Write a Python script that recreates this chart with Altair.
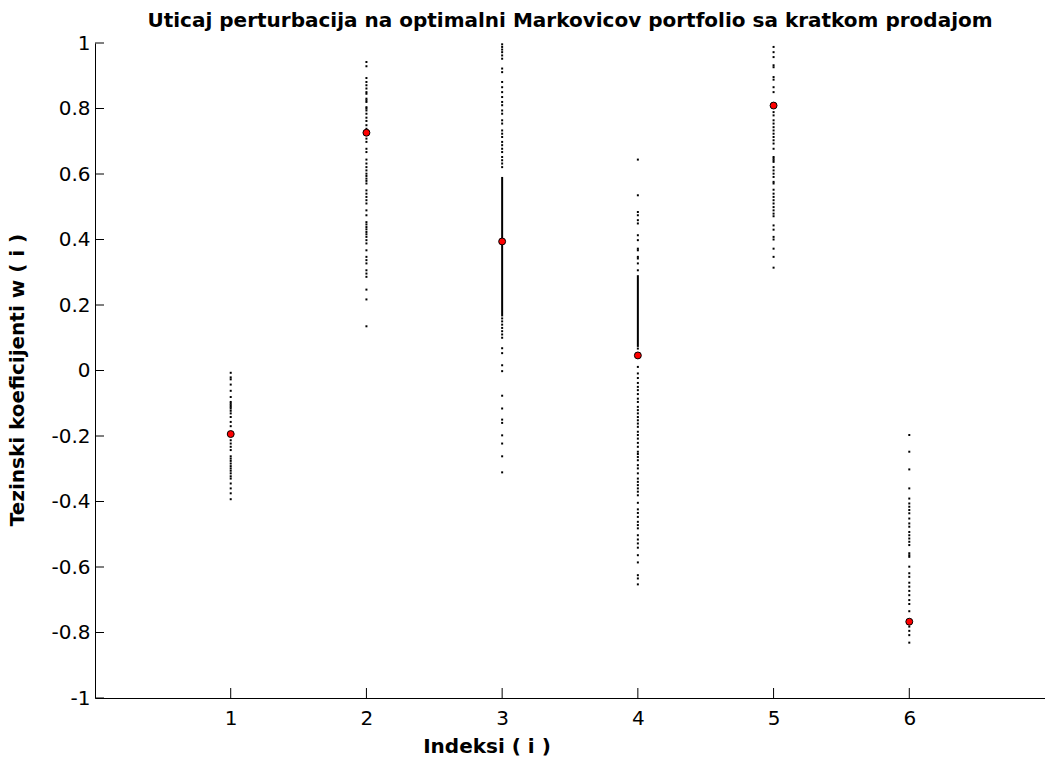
import altair as alt
import pandas as pd

# Perturbed optimal weights (short selling allowed), one column of samples per asset index
idx1_w = [-0.007, -0.021, -0.027, -0.043, -0.062, -0.081, -0.096, -0.101, -0.106, -0.111,
          -0.116, -0.123, -0.131, -0.142, -0.157, -0.170, -0.213, -0.223, -0.233, -0.243,
          -0.262, -0.269, -0.276, -0.284, -0.292, -0.299, -0.306, -0.314, -0.323, -0.330,
          -0.345, -0.360, -0.375, -0.393]
idx2_w = [0.942, 0.929, 0.893, 0.881, 0.871, 0.861, 0.850, 0.845, 0.830, 0.825, 0.820,
          0.804, 0.800, 0.794, 0.784, 0.772, 0.762, 0.749, 0.738, 0.708, 0.698, 0.677,
          0.667, 0.644, 0.632, 0.621, 0.611, 0.601, 0.594, 0.586, 0.579, 0.571, 0.550,
          0.540, 0.530, 0.520, 0.510, 0.489, 0.474, 0.453, 0.446, 0.438, 0.431, 0.423,
          0.416, 0.408, 0.398, 0.388, 0.367, 0.347, 0.337, 0.327, 0.306, 0.296, 0.286,
          0.247, 0.217, 0.135]
idx3_w = [0.996, 0.988, 0.980, 0.972, 0.962, 0.952, 0.922, 0.911, 0.881, 0.865, 0.850,
          0.835, 0.820, 0.810, 0.794, 0.784, 0.764, 0.754, 0.733, 0.723, 0.713, 0.698,
          0.688, 0.677, 0.667, 0.652, 0.642, 0.632, 0.621, 0.159, 0.150, 0.140, 0.130,
          0.120, 0.110, 0.100, 0.068, 0.053, 0.016, -0.002, -0.077, -0.116, -0.150,
          -0.160, -0.198, -0.223, -0.262, -0.311]
idx4_w = [0.644, 0.535, 0.484, 0.474, 0.459, 0.449, 0.413, 0.398, 0.372, 0.367, 0.347,
          0.342, 0.327, 0.306, 0.067, 0.011, -0.009, -0.023, -0.038, -0.050, -0.060,
          -0.072, -0.086, -0.096, -0.111, -0.121, -0.131, -0.142, -0.152, -0.162, -0.172,
          -0.187, -0.197, -0.208, -0.221, -0.233, -0.248, -0.255, -0.264, -0.274, -0.289,
          -0.299, -0.314, -0.330, -0.340, -0.350, -0.360, -0.370, -0.381, -0.404, -0.424,
          -0.435, -0.447, -0.462, -0.472, -0.482, -0.503, -0.516, -0.528, -0.541, -0.564,
          -0.586, -0.625, -0.635, -0.653]
idx5_w = [0.988, 0.972, 0.957, 0.932, 0.926, 0.896, 0.888, 0.865, 0.850, 0.789, 0.779,
          0.764, 0.754, 0.743, 0.733, 0.723, 0.713, 0.703, 0.693, 0.677, 0.652, 0.647,
          0.642, 0.637, 0.621, 0.611, 0.601, 0.591, 0.576, 0.571, 0.552, 0.540, 0.530,
          0.520, 0.510, 0.499, 0.489, 0.479, 0.471, 0.443, 0.430, 0.408, 0.400, 0.372,
          0.347, 0.314]
idx6_w = [-0.197, -0.248, -0.302, -0.360, -0.391, -0.406, -0.416, -0.426, -0.436, -0.452,
          -0.467, -0.477, -0.493, -0.503, -0.513, -0.523, -0.533, -0.558, -0.564, -0.569,
          -0.599, -0.619, -0.630, -0.648, -0.660, -0.673, -0.686, -0.701, -0.713, -0.735,
          -0.782, -0.795, -0.808, -0.831]

# Stretches where the samples are so dense they merge into a solid line
dense_idx = [3, 4]
dense_lo = [0.165, 0.072]
dense_hi = [0.591, 0.291]

# Unperturbed optimal Markowitz weights
opt_idx = [1, 2, 3, 4, 5, 6]
opt_w = [-0.194, 0.726, 0.394, 0.046, 0.809, -0.767]

x_ticks = [1, 2, 3, 4, 5, 6]
y_ticks = [-1, -0.8, -0.6, -0.4, -0.2, 0, 0.2, 0.4, 0.6, 0.8, 1]

W, H = 950, 655
TICK_FONT = "DejaVu Sans"
BOLD_FONT = "DejaVu Sans"

samples = pd.DataFrame(
    [(i, w) for i, col in enumerate([idx1_w, idx2_w, idx3_w, idx4_w, idx5_w, idx6_w], start=1) for w in col],
    columns=["i", "w"],
)
dense = pd.DataFrame({"i": dense_idx, "lo": dense_lo, "hi": dense_hi})
optimal = pd.DataFrame({"i": opt_idx, "w": opt_w})
xt = pd.DataFrame({"t": x_ticks})
yt = pd.DataFrame({"t": y_ticks})

x_scale = alt.Scale(domain=[0, 7], nice=False, zero=False)
y_scale = alt.Scale(domain=[-1, 1], nice=False, zero=False)

x_axis = alt.Axis(values=x_ticks, ticks=False, tickSize=0, grid=False, labelPadding=10,
                  labelFont=TICK_FONT, labelFontSize=20, labelColor="black",
                  labelExpr="'' + datum.value",
                  domainColor="black", domainWidth=1, title=None)
y_axis = alt.Axis(values=y_ticks, ticks=False, tickSize=0, grid=False, labelPadding=5,
                  labelFont=TICK_FONT, labelFontSize=20, labelColor="black",
                  labelExpr="'' + datum.value",
                  domainColor="black", domainWidth=1, title=None)

dots = alt.Chart(samples).mark_square(size=4, color="black", opacity=1).encode(
    x=alt.X("i:Q", scale=x_scale, axis=x_axis),
    y=alt.Y("w:Q", scale=y_scale, axis=y_axis),
)

solid = alt.Chart(dense).mark_rule(color="black", strokeWidth=2).encode(
    x=alt.X("i:Q", scale=x_scale),
    y=alt.Y("lo:Q", scale=y_scale),
    y2="hi:Q",
)

red = alt.Chart(optimal).mark_circle(size=48, color="#ff0000", opacity=1,
                                     stroke="black", strokeWidth=1).encode(
    x=alt.X("i:Q", scale=x_scale),
    y=alt.Y("w:Q", scale=y_scale),
)

# inward-pointing tick marks
x_tick_marks = alt.Chart(xt).mark_rule(color="black", strokeWidth=1).encode(
    x=alt.X("t:Q", scale=x_scale),
    y=alt.value(H),
    y2=alt.value(H - 10),
)
y_tick_marks = alt.Chart(yt).mark_rule(color="black", strokeWidth=1).encode(
    y=alt.Y("t:Q", scale=y_scale),
    x=alt.value(0),
    x2=alt.value(9),
)

x_title = alt.Chart(xt).mark_text(text="Indeksi ( i )", font=BOLD_FONT, fontWeight="bold",
                                  fontSize=20, color="black", align="center",
                                  baseline="alphabetic").encode(
    x=alt.value(392), y=alt.value(H + 55)
).transform_filter("datum.t == 1")

y_title = alt.Chart(xt).mark_text(text="Tezinski koeficijenti w ( i )", font=BOLD_FONT,
                                  fontWeight="bold", fontSize=20, color="black",
                                  align="center", baseline="middle", angle=270).encode(
    x=alt.value(-77), y=alt.value(337)
).transform_filter("datum.t == 1")

chart = alt.layer(dots, solid, red, x_tick_marks, y_tick_marks, x_title, y_title).properties(
    width=W,
    height=H,
    title=alt.TitleParams(
        "Uticaj perturbacija na optimalni Markovicov portfolio sa kratkom prodajom",
        font=BOLD_FONT, fontWeight="bold", fontSize=20, color="black",
        anchor="middle", frame="group", offset=2,
    ),
    padding={"left": 95, "top": 43, "right": 0, "bottom": 61},
    autosize=alt.AutoSizeParams(type="none"),
).configure_view(stroke=None)

chart.save("out.html", embed_options={"renderer": "svg", "actions": False})
